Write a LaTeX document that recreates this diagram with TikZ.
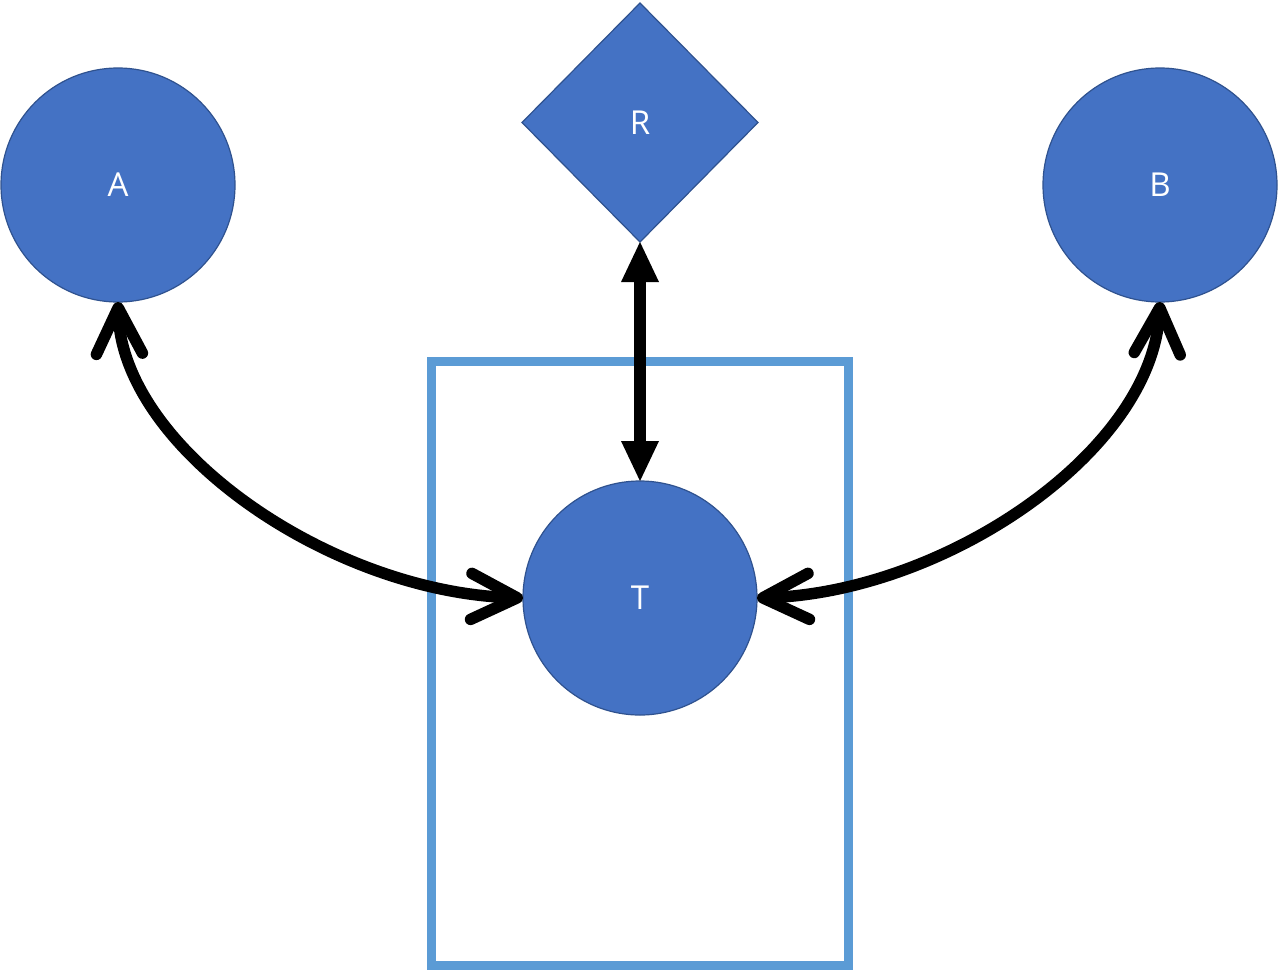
\documentclass[tikz,border=0pt]{standalone}
\usepackage{fontspec}
\newfontfamily\labelfont{Open Sans}
\usetikzlibrary{arrows.meta,shapes.geometric}
\definecolor{nodefill}{HTML}{4472C4}
\definecolor{nodeedge}{HTML}{2F528F}
\definecolor{frameblue}{HTML}{5B9BD5}
\tikzset{
  x=1pt,y=-1pt,
  shapebase/.style={fill=nodefill,draw=nodeedge,line width=1.2pt,text=white,
    font=\labelfont\fontsize{33}{38}\selectfont,inner sep=0pt,outer sep=0pt},
  roundnode/.style={shapebase,circle,minimum size=234pt},
  diamondnode/.style={shapebase,diamond,minimum width=236pt,minimum height=239pt},
  framebox/.style={draw=frameblue,line width=9pt},
  curvedarrow/.style={line width=11.5pt,
    {Straight Barb[length=46pt,width=46pt,round]}-{Straight Barb[length=46pt,width=46pt,round]}},
  straightarrow/.style={line width=12pt,
    {Triangle[length=40pt,width=38pt,line width=0pt]}-{Triangle[length=40pt,width=38pt,line width=0pt]}},
}
\begin{document}
\begin{tikzpicture}
\useasboundingbox (0,0) rectangle (1279,970);
\draw[framebox] (431,361.5) rectangle (848.5,965);
\node[roundnode] (A) at (118,185) {A};
\node[roundnode] (B) at (1160,185) {B};
\node[roundnode] (T) at (640,598) {T};
\node[diamondnode] (R) at (640,122.5) {R};
\draw[straightarrow] (R.south) -- (T.north);
\draw[curvedarrow] (A.south) .. controls (122,448) and (330,592) .. (T.west);
\draw[curvedarrow] (B.south) .. controls (1152,452) and (945,592) .. (T.east);
\end{tikzpicture}
\end{document}
